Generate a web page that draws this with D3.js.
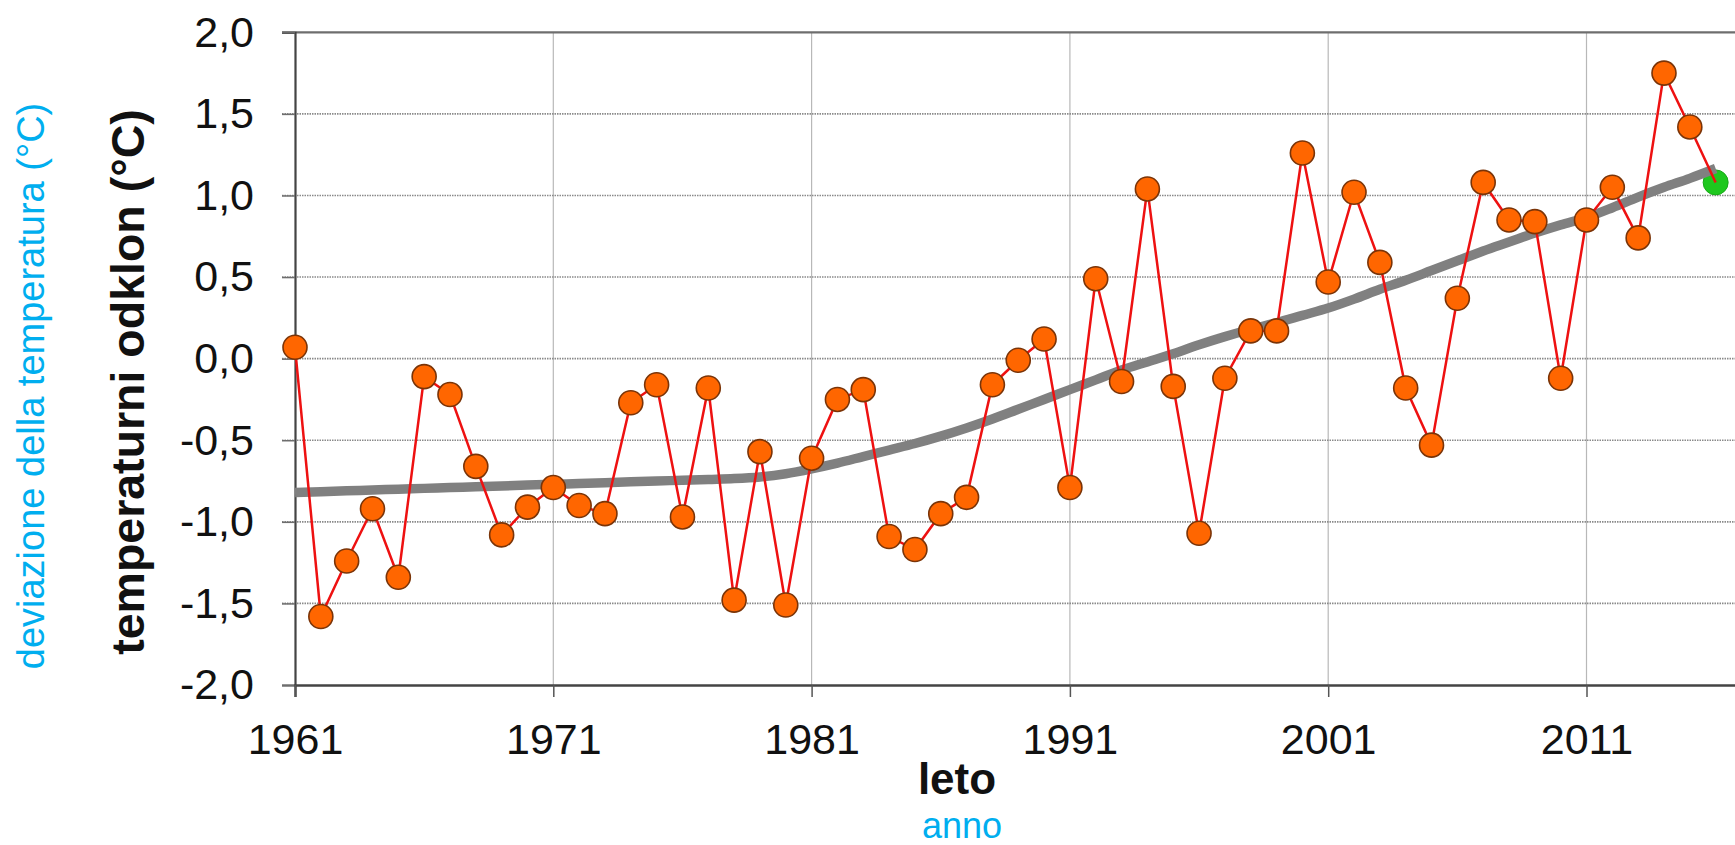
<!DOCTYPE html>
<html>
<head>
<meta charset="utf-8">
<script src="https://cdn.jsdelivr.net/npm/d3@7"></script>
<style>
  html, body { margin: 0; padding: 0; background: #fff; }
  svg { display: block; font-family: "Liberation Sans", Arial, sans-serif; }
</style>
</head>
<body>
<div id="chart"></div>
<script>
// Data
const years = [1961, 1962, 1963, 1964, 1965, 1966, 1967, 1968, 1969, 1970,
  1971, 1972, 1973, 1974, 1975, 1976, 1977, 1978, 1979, 1980,
  1981, 1982, 1983, 1984, 1985, 1986, 1987, 1988, 1989, 1990,
  1991, 1992, 1993, 1994, 1995, 1996, 1997, 1998, 1999, 2000,
  2001, 2002, 2003, 2004, 2005, 2006, 2007, 2008, 2009, 2010,
  2011, 2012, 2013, 2014, 2015, 2016];
const anomaly = [0.07, -1.58, -1.24, -0.92, -1.34, -0.11, -0.22, -0.66, -1.08, -0.91,
  -0.79, -0.90, -0.95, -0.27, -0.16, -0.97, -0.18, -1.48, -0.57, -1.51,
  -0.61, -0.25, -0.19, -1.09, -1.17, -0.95, -0.85, -0.16, -0.01, 0.12,
  -0.79, 0.49, -0.14, 1.04, -0.17, -1.07, -0.12, 0.17, 0.17, 1.26,
  0.47, 1.02, 0.59, -0.18, -0.53, 0.37, 1.08, 0.85, 0.84, -0.12,
  0.85, 1.05, 0.74, 1.75, 1.42, 1.08];
// smoothed trend (grey)
const trend = [-0.82, -0.815, -0.81, -0.805, -0.80, -0.795, -0.79, -0.785, -0.78, -0.775,
  -0.77, -0.765, -0.76, -0.755, -0.75, -0.745, -0.74, -0.735, -0.725, -0.705,
  -0.675, -0.64, -0.60, -0.56, -0.52, -0.475, -0.425, -0.37, -0.31, -0.25,
  -0.19, -0.13, -0.07, -0.02, 0.03, 0.085, 0.135, 0.18, 0.22, 0.265,
  0.31, 0.365, 0.425, 0.48, 0.54, 0.60, 0.66, 0.715, 0.77, 0.82,
  0.865, 0.925, 0.99, 1.05, 1.105, 1.165];
const highlightYear = 2016;
const xTicks = [1961, 1971, 1981, 1991, 2001, 2011];
const yTicks = [-2, -1.5, -1, -0.5, 0, 0.5, 1, 1.5, 2];

const xTitle = "leto";
const xTitleIt = "anno";
const yTitle = "temperaturni odklon (°C)";
const yTitleIt = "deviazione della temperatura (°C)";

// Colors
const lineColor = "#ee1111";
const markerColor = "#ff6600";
const markerStroke = "#7a3408";
const greenColor = "#1ec81e";
const trendColor = "#808080";
const blue = "#00aeef";

const width = 1735;
const height = 845;
const plotLeft = 295, plotTop = 32.3, plotBottom = 685;
const perYear = 25.83;

const svg = d3.select("#chart").append("svg")
  .attr("width", width)
  .attr("height", height);

const x = d3.scaleLinear()
  .domain([1961, 2017])
  .range([plotLeft, plotLeft + 56 * perYear]);

const y = d3.scaleLinear()
  .domain([-2, 2])
  .range([plotBottom, plotTop]);

const data = years.map((yr, i) => ({ year: yr, v: anomaly[i], t: trend[i] }));

// vertical grid
svg.append("g")
  .selectAll("line")
  .data(xTicks.slice(1))
  .join("line")
  .attr("x1", d => x(d)).attr("x2", d => x(d))
  .attr("y1", plotTop).attr("y2", plotBottom)
  .attr("stroke", "#b8b8b8")
  .attr("stroke-width", 1.2);

// horizontal dotted grid
svg.append("g")
  .selectAll("line")
  .data(yTicks.filter(d => d > -2 && d < 2))
  .join("line")
  .attr("x1", plotLeft - 13).attr("x2", width)
  .attr("y1", d => y(d)).attr("y2", d => y(d))
  .attr("stroke", "#8a8a8a")
  .attr("stroke-width", 1.6)
  .attr("stroke-dasharray", "1.5,1");

// top border
svg.append("line")
  .attr("x1", plotLeft - 13).attr("x2", width)
  .attr("y1", y(2)).attr("y2", y(2))
  .attr("stroke", "#6e6e6e")
  .attr("stroke-width", 2.2);

// y axis
const yAxis = svg.append("g")
  .attr("transform", `translate(${plotLeft},0)`)
  .call(d3.axisLeft(y).tickValues(yTicks).tickSize(13).tickPadding(28)
    .tickFormat(d => d.toFixed(1).replace(".", ",")));
yAxis.select(".domain").attr("stroke", "#444").attr("stroke-width", 2.2);
yAxis.selectAll(".tick line").attr("stroke", "#6e6e6e").attr("stroke-width", 1.5);
yAxis.selectAll(".tick text")
  .attr("font-size", "43px")
  .attr("fill", "#111")
  .attr("font-family", "Liberation Sans, Arial, sans-serif");

// x axis
const xAxis = svg.append("g")
  .attr("transform", `translate(0,${plotBottom})`)
  .call(d3.axisBottom(x).tickValues(xTicks).tickSize(12).tickPadding(26)
    .tickFormat(d3.format("d")));
xAxis.select(".domain").attr("stroke", "#444").attr("stroke-width", 2.4);
xAxis.selectAll(".tick line").attr("stroke", "#555").attr("stroke-width", 1.5);
xAxis.selectAll(".tick text")
  .attr("font-size", "43px")
  .attr("fill", "#111")
  .attr("font-family", "Liberation Sans, Arial, sans-serif");

// green highlight point (behind trend end)
const last = data.find(d => d.year === highlightYear);
svg.append("circle")
  .attr("cx", x(last.year))
  .attr("cy", y(last.v))
  .attr("r", 12.5)
  .attr("fill", greenColor)
  .attr("stroke", "#18a818")
  .attr("stroke-width", 1);

// trend
svg.append("path")
  .datum(data)
  .attr("fill", "none")
  .attr("stroke", trendColor)
  .attr("stroke-width", 9.5)
  .attr("d", d3.line().x(d => x(d.year)).y(d => y(d.t)).curve(d3.curveMonotoneX));

// anomaly line
svg.append("path")
  .datum(data)
  .attr("fill", "none")
  .attr("stroke", lineColor)
  .attr("stroke-width", 2.5)
  .attr("d", d3.line().x(d => x(d.year)).y(d => y(d.v)));

// markers
svg.append("g")
  .selectAll("circle")
  .data(data.filter(d => d.year !== highlightYear))
  .join("circle")
  .attr("cx", d => x(d.year))
  .attr("cy", d => y(d.v))
  .attr("r", 12)
  .attr("fill", markerColor)
  .attr("stroke", markerStroke)
  .attr("stroke-width", 1.6);

// axis titles
svg.append("text")
  .attr("x", 957).attr("y", 794)
  .attr("text-anchor", "middle")
  .attr("font-size", "44px")
  .attr("font-weight", "bold")
  .attr("fill", "#111")
  .text(xTitle);

svg.append("text")
  .attr("x", 962).attr("y", 838)
  .attr("text-anchor", "middle")
  .attr("font-size", "36px")
  .attr("fill", blue)
  .text(xTitleIt);

svg.append("text")
  .attr("transform", "translate(144,382) rotate(-90)")
  .attr("text-anchor", "middle")
  .attr("font-size", "46.5px")
  .attr("font-weight", "bold")
  .attr("fill", "#111")
  .text(yTitle);

svg.append("text")
  .attr("transform", "translate(44,386) rotate(-90)")
  .attr("text-anchor", "middle")
  .attr("font-size", "38px")
  .attr("fill", blue)
  .text(yTitleIt);
</script>
</body>
</html>
